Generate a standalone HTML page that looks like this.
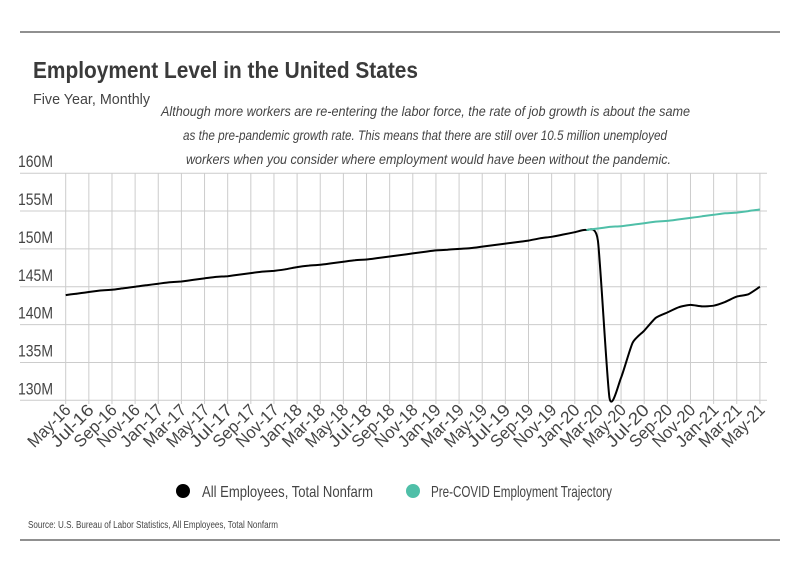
<!DOCTYPE html>
<html><head><meta charset="utf-8"><style>
body{margin:0;background:#fff;width:799px;height:575px;overflow:hidden;font-family:"Liberation Sans",sans-serif;color:#444}
svg text{font-family:"Liberation Sans",sans-serif}
</style></head><body>
<svg id="c" width="799" height="575">
<line x1="20" y1="32" x2="780" y2="32" stroke="#222" stroke-width="1"/>
<line x1="20" y1="540" x2="780" y2="540" stroke="#222" stroke-width="1"/>
<text x="33" y="78" font-size="23" font-weight="bold" fill="#3a3a3a" textLength="385" lengthAdjust="spacingAndGlyphs">Employment Level in the United States</text>
<text x="33" y="104" font-size="15" fill="#444" textLength="117" lengthAdjust="spacingAndGlyphs">Five Year, Monthly</text>
<g font-size="14" font-style="italic" fill="#444">
<text x="161" y="116" textLength="529" lengthAdjust="spacingAndGlyphs">Although more workers are re-entering the labor force, the rate of job growth is about the same</text>
<text x="183" y="140" textLength="484" lengthAdjust="spacingAndGlyphs">as the pre-pandemic growth rate. This means that there are still over 10.5 million unemployed</text>
<text x="186" y="164" textLength="485" lengthAdjust="spacingAndGlyphs">workers when you consider where employment would have been without the pandemic.</text>
</g>
<g id="grid"></g><g id="ylab"></g><g id="xlab"></g><g id="lines"></g>
<g>
<circle cx="183" cy="491" r="7" fill="#000"/>
<text x="202" y="497" font-size="16" fill="#444" textLength="171" lengthAdjust="spacingAndGlyphs">All Employees, Total Nonfarm</text>
<circle cx="413" cy="491" r="7" fill="#4fbfa8"/>
<text x="431" y="497" font-size="16" fill="#444" textLength="181" lengthAdjust="spacingAndGlyphs">Pre-COVID Employment Trajectory</text>
</g>
<text x="28" y="528" font-size="10" fill="#444" textLength="250" lengthAdjust="spacingAndGlyphs">Source:  U.S. Bureau of Labor Statistics, All Employees, Total Nonfarm</text>
</svg>
<script>
const labels=["May-16","Jul-16","Sep-16","Nov-16","Jan-17","Mar-17","May-17","Jul-17","Sep-17","Nov-17","Jan-18","Mar-18","May-18","Jul-18","Sep-18","Nov-18","Jan-19","Mar-19","May-19","Jul-19","Sep-19","Nov-19","Jan-20","Mar-20","May-20","Jul-20","Sep-20","Nov-20","Jan-21","Mar-21","May-21"];
const yTicks=[130,135,140,145,150,155,160];
const nonfarm=[143.9,144.1,144.3,144.5,144.6,144.8,145.0,145.2,145.4,145.6,145.7,145.9,146.1,146.3,146.4,146.6,146.8,147.0,147.1,147.3,147.6,147.8,147.9,148.1,148.3,148.5,148.6,148.8,149.0,149.2,149.4,149.6,149.8,149.9,150.0,150.1,150.3,150.5,150.7,150.9,151.1,151.4,151.6,151.9,152.2,152.5,151.1,130.3,133.0,137.6,139.2,140.9,141.6,142.3,142.6,142.4,142.5,143.0,143.7,144.0,145.0];
const trajStart=45;
const trajectory=[152.5,152.7,152.9,153.0,153.2,153.4,153.6,153.7,153.9,154.1,154.3,154.5,154.7,154.8,155.0,155.2];
const x0=65.7,dx=11.57;
function Xi(i){return x0+i*dx;}
function Y(v){return 400.3-(v-130)*7.57;}
const NS="http://www.w3.org/2000/svg";
function mk(t,a,p){const e=document.createElementNS(NS,t);for(const k in a)e.setAttribute(k,a[k]);document.getElementById(p).appendChild(e);return e;}
yTicks.forEach(v=>{const l=mk("line",{x1:20,x2:767,y1:Y(v),y2:Y(v),stroke:"#ccc","stroke-width":1},"grid");


const t=mk("text",{x:18,y:Y(v)-6,"font-size":17,fill:"#444",textLength:35,lengthAdjust:"spacingAndGlyphs"},"ylab");t.textContent=v+"M";

});
labels.forEach((s,k)=>{const x=x0+k*2*dx;
const l=mk("line",{x1:x,x2:x,y1:173,y2:404,stroke:"#ccc","stroke-width":1},"grid");


const t=mk("text",{x:x+6,y:411,"font-size":17,fill:"#444","text-anchor":"end",textLength:s.length*8.8,lengthAdjust:"spacingAndGlyphs",transform:`rotate(-45 ${x+6} 411)`},"xlab");t.textContent=s;

});
function path(arr,start){const P=arr.map((v,i)=>[Xi(start+i),Y(v)]);let d="M"+P[0][0].toFixed(1)+","+P[0][1].toFixed(1);
for(let i=0;i<P.length-1;i++){const a=P[i-1]||P[i],b=P[i],c=P[i+1],e=P[i+2]||c;const t=0.1;
d+="C"+(b[0]+(c[0]-a[0])*t).toFixed(1)+","+(b[1]+(c[1]-a[1])*t).toFixed(1)+" "+(c[0]-(e[0]-b[0])*t).toFixed(1)+","+(c[1]-(e[1]-b[1])*t).toFixed(1)+" "+c[0].toFixed(1)+","+c[1].toFixed(1);}
return d;}
const p1=mk("path",{d:path(nonfarm,0),fill:"none",stroke:"#000","stroke-width":2,"stroke-linejoin":"round"},"lines");


const p2=mk("path",{d:path(trajectory,trajStart),fill:"none",stroke:"#4fbfa8","stroke-width":2},"lines");


</script>
</body></html>
